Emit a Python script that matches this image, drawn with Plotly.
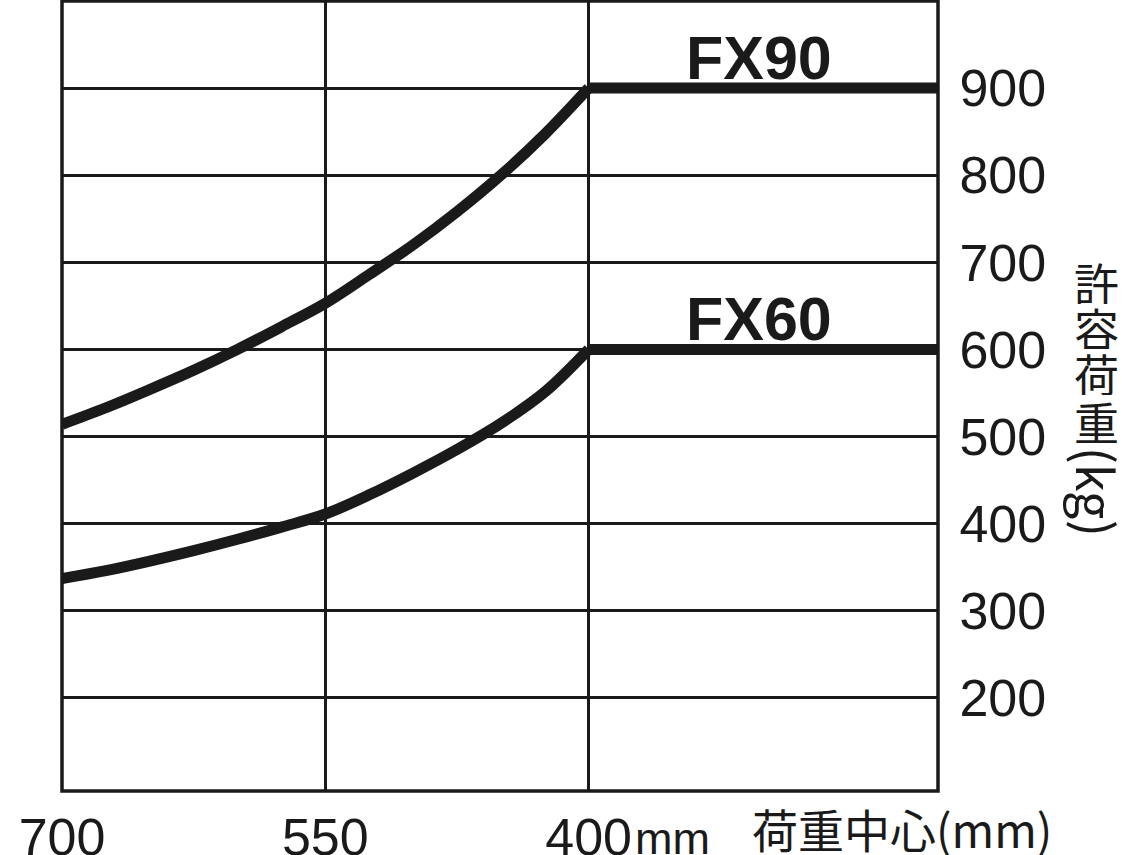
import plotly.graph_objects as go

# Load center (mm) and allowable load (kg)
load_center_mm = [700, 675, 650, 625, 600, 575, 550, 525, 500, 475, 450, 425, 400]
fx90_kg = [514, 533, 554, 576, 600, 626, 653, 686, 720, 758, 800, 847, 900]
fx60_kg = [337, 346, 357, 369, 382, 396, 411, 433, 458, 485, 515, 551, 600]
# flat (rated) part of each curve
flat_mm = [400, 200]
fx90_flat_kg = [900, 900]
fx60_flat_kg = [600, 600]

series_names = ["FX90", "FX60"]
x_ticks = [700, 550, 400]
x_ticktext = ["700", "550", "400"]
y_ticks = [200, 300, 400, 500, 600, 700, 800, 900]
x_unit = "mm"
x_title = "荷重中心(mm)"
y_title_chars = ["許", "容", "荷", "重"]
y_title_unit = "(kg)"

INK = "#1a1a1a"
NUM_FONT = "Liberation Sans, Arial, sans-serif"
CJK_FONT = "Noto Sans CJK JP, sans-serif"

fig = go.Figure()
for name, ys, flat in zip(series_names, [fx90_kg, fx60_kg], [fx90_flat_kg, fx60_flat_kg]):
    fig.add_trace(go.Scatter(
        x=load_center_mm, y=ys, mode="lines", name=name,
        line=dict(color=INK, width=11, shape="spline", smoothing=1.0), showlegend=False,
    ))
    fig.add_trace(go.Scatter(
        x=flat_mm, y=flat, mode="lines", name=name,
        line=dict(color=INK, width=11), showlegend=False,
    ))

fig.update_xaxes(
    range=[700, 201], tickvals=x_ticks, ticktext=x_ticktext, automargin=False,
    showgrid=True, gridcolor=INK, gridwidth=3, zeroline=False, showline=False,
    ticks="outside", ticklen=1, tickcolor="rgba(0,0,0,0)",
    tickfont=dict(family=NUM_FONT, size=52, color=INK),
)
fig.update_yaxes(
    range=[93, 1000], tickvals=y_ticks, side="right", automargin=False,
    showgrid=True, gridcolor=INK, gridwidth=3, zeroline=False, showline=False,
    ticks="outside", ticklen=10, tickcolor="rgba(0,0,0,0)",
    tickfont=dict(family=NUM_FONT, size=52, color=INK),
)

# frame
fig.add_shape(type="rect", xref="paper", yref="paper", x0=0, x1=1, y0=0, y1=1,
              line=dict(color=INK, width=3.5), layer="above")

PL, PR, PT, PB = 62, 938, 1, 791
def px_x(px):
    return (px - PL) / (PR - PL)
def px_y(py):
    return (PB - py) / (PB - PT)

annotations = []
# series labels
for name, flat in zip(series_names, [fx90_flat_kg, fx60_flat_kg]):
    annotations.append(dict(
        x=303, y=flat[-1], xref="x", yref="y", text=f"<b>{name}</b>",
        showarrow=False, yanchor="bottom", yshift=-6,
        font=dict(family=NUM_FONT, size=61, color=INK),
    ))
# "mm" after the 400 tick
annotations.append(dict(
    x=400, y=0, xref="x", yref="paper", text=x_unit, showarrow=False,
    xanchor="left", yanchor="top", xshift=44, yshift=-20,
    font=dict(family=NUM_FONT, size=45, color=INK),
))
# x title
annotations.append(dict(
    x=px_x(750), y=0, xref="paper", yref="paper", text=x_title, showarrow=False,
    xanchor="left", yanchor="top", yshift=-2,
    font=dict(family=CJK_FONT, size=46, color=INK),
))
# y title (vertical)
centers = [282, 327, 373, 421]
for ch, cy in zip(y_title_chars, centers):
    annotations.append(dict(
        x=px_x(1096), y=px_y(cy), xref="paper", yref="paper",
        text=ch, showarrow=False, xanchor="center", yanchor="middle", height=44,
        font=dict(family=CJK_FONT, size=45, color=INK),
    ))
annotations.append(dict(
    x=px_x(1098), y=px_y(492), xref="paper", yref="paper",
    text=y_title_unit, showarrow=False, textangle=90, xanchor="center", yanchor="middle",
    font=dict(family=CJK_FONT, size=50, color=INK),
))

fig.update_layout(
    width=1140, height=855,
    margin=dict(l=PL, r=1140 - PR, t=PT, b=855 - PB),
    paper_bgcolor="white", plot_bgcolor="white",
    annotations=annotations,
)

fig.write_html(
    "out.html",
    config={"displayModeBar": False},
    post_script="document.body.style.margin='0';document.body.style.overflow='hidden';",
)
